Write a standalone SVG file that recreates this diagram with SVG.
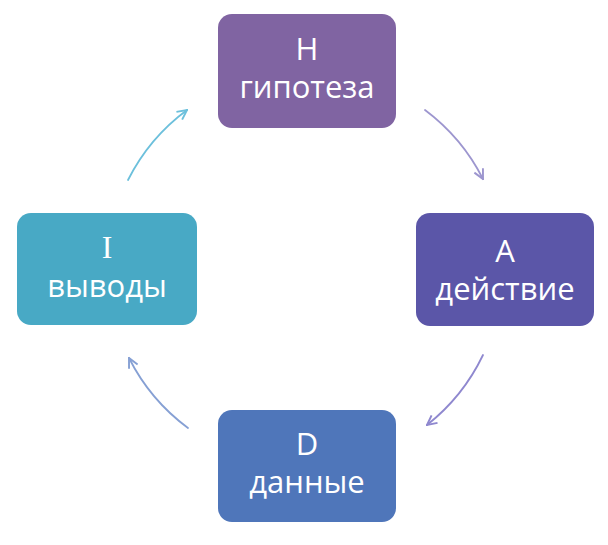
<svg xmlns="http://www.w3.org/2000/svg" width="608" height="545" viewBox="0 0 608 545">
<style>
.box{stroke:none}
.t{font-family:"Open Sans","Liberation Sans",sans-serif;font-size:31px;fill:#ffffff;text-anchor:middle}
.ts{font-family:"Liberation Serif",serif;font-size:32px;fill:#ffffff;text-anchor:middle}
.c{fill:none;stroke-width:1.8;stroke-linecap:round}
</style>
<defs>
<marker id="m1" viewBox="0 0 10 10" refX="9" refY="5" markerWidth="12" markerHeight="12" markerUnits="userSpaceOnUse" orient="auto"><path d="M1,1 L9,5 L1,9" fill="none" stroke="#9d96cf" stroke-width="1.6"/></marker>
<marker id="m2" viewBox="0 0 10 10" refX="9" refY="5" markerWidth="12" markerHeight="12" markerUnits="userSpaceOnUse" orient="auto"><path d="M1,1 L9,5 L1,9" fill="none" stroke="#8f88cf" stroke-width="1.6"/></marker>
<marker id="m3" viewBox="0 0 10 10" refX="9" refY="5" markerWidth="12" markerHeight="12" markerUnits="userSpaceOnUse" orient="auto"><path d="M1,1 L9,5 L1,9" fill="none" stroke="#86a0d4" stroke-width="1.6"/></marker>
<marker id="m4" viewBox="0 0 10 10" refX="9" refY="5" markerWidth="12" markerHeight="12" markerUnits="userSpaceOnUse" orient="auto"><path d="M1,1 L9,5 L1,9" fill="none" stroke="#6cc0dc" stroke-width="1.6"/></marker>
</defs>
<rect width="608" height="545" fill="#ffffff"/>
<g id="connectors">
<path class="c" d="M425,110 A198,198 0 0 1 483,179" stroke="#9d96cf" marker-end="url(#m1)"/>
<path class="c" d="M483,355 A198,198 0 0 1 427,425" stroke="#8f88cf" marker-end="url(#m2)"/>
<path class="c" d="M188,428 A198,198 0 0 1 129,358" stroke="#86a0d4" marker-end="url(#m3)"/>
<path class="c" d="M128,180 A198,198 0 0 1 187,110" stroke="#6cc0dc" marker-end="url(#m4)"/>
</g>
<g id="node-H">
<rect class="box" x="218" y="14" width="178" height="114" rx="14" fill="#8064a2"/>
<text class="t" x="307" y="60">H</text>
<text class="t" x="307" y="98">гипотеза</text>
</g>
<g id="node-A">
<rect class="box" x="416" y="213" width="178" height="113" rx="14" fill="#5b56a8"/>
<text class="t" x="505" y="262">A</text>
<text class="t" x="505" y="300">действие</text>
</g>
<g id="node-D">
<rect class="box" x="218" y="410" width="178" height="112" rx="14" fill="#4f76ba"/>
<text class="t" x="307" y="455">D</text>
<text class="t" x="307" y="493">данные</text>
</g>
<g id="node-I">
<rect class="box" x="17" y="213" width="180" height="112" rx="14" fill="#48a9c5"/>
<text class="ts" x="107" y="258">I</text>
<text class="t" x="107" y="297">выводы</text>
</g>
</svg>
